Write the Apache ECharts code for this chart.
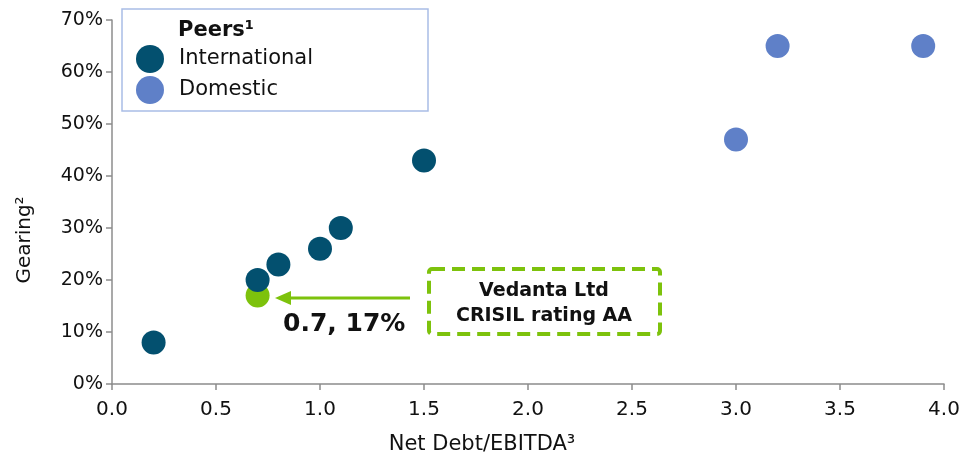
<!DOCTYPE html>
<html>
<head>
<meta charset="utf-8">
<script src="https://cdn.jsdelivr.net/npm/echarts@6/dist/echarts.min.js"></script>
<style>html,body{margin:0;padding:0;background:#fff}#c{width:964px;height:458px}</style>
</head>
<body>
<div id="c"></div>
<script>
const xTicks = [0, 0.5, 1.0, 1.5, 2.0, 2.5, 3.0, 3.5, 4.0];
const yTicks = [0, 10, 20, 30, 40, 50, 60, 70];
const internationalX = [0.2, 0.7, 0.8, 1.0, 1.1, 1.5];
const internationalY = [8, 20, 23, 26, 30, 43];
const domesticX = [3.0, 3.2, 3.9];
const domesticY = [47, 65, 65];
const vedantaX = [0.7];
const vedantaY = [17];

const FONT = 'DejaVu Sans, Verdana, sans-serif';
const cInt = '#03506f', cDom = '#5f80c8', cGreen = '#7dc20c';
const zip = (a, b) => a.map((v, i) => [v, b[i]]);

const chart = echarts.init(document.getElementById('c'));
chart.setOption({
  animation: false,
  grid: { left: 112, right: 20, top: 20, bottom: 74 },
  xAxis: {
    type: 'value', min: xTicks[0], max: xTicks[xTicks.length - 1], interval: 0.5,
    axisLine: { show: true, lineStyle: { color: '#8c8c8c', width: 1.5 } },
    axisTick: { show: true, length: 6, lineStyle: { color: '#8c8c8c', width: 1.5 } },
    splitLine: { show: false },
    axisLabel: { color: '#111', fontFamily: FONT, fontSize: 20, margin: 16, formatter: v => v.toFixed(1) }
  },
  yAxis: {
    type: 'value', min: yTicks[0], max: yTicks[yTicks.length - 1], interval: 10,
    axisLine: { show: true, lineStyle: { color: '#8c8c8c', width: 1.5 } },
    axisTick: { show: true, length: 6, lineStyle: { color: '#8c8c8c', width: 1.5 } },
    splitLine: { show: false },
    axisLabel: { color: '#111', fontFamily: FONT, fontSize: 19, margin: 9, formatter: '{value}%' }
  },
  legend: {
    orient: 'vertical', left: 131, top: 40, itemWidth: 28, itemHeight: 28, itemGap: 3,
    icon: 'circle', data: ['International', 'Domestic'],
    textStyle: { fontFamily: FONT, fontSize: 21, color: '#111', padding: [4, 0, 0, 10] }
  },
  series: [
    { name: 'International', type: 'scatter', symbolSize: 24, itemStyle: { color: cInt, opacity: 1 }, data: zip(internationalX, internationalY), z: 3 },
    { name: 'Domestic', type: 'scatter', symbolSize: 24, itemStyle: { color: cDom, opacity: 1 }, data: zip(domesticX, domesticY), z: 3 },
    { name: 'Vedanta', type: 'scatter', symbolSize: 24, itemStyle: { color: cGreen, opacity: 1 }, data: zip(vedantaX, vedantaY), z: 2 }
  ],
  graphic: [
    { type: 'rect', shape: { x: 122, y: 9, width: 306, height: 102 }, style: { fill: 'none', stroke: '#a9bde6', lineWidth: 1.5 }, z: 1 },
    { type: 'text', left: 178, top: 20, style: { text: 'Peers¹', font: 'bold 21px ' + FONT, fill: '#111' } },
    { type: 'line', shape: { x1: 410, y1: 298, x2: 284, y2: 298 }, style: { stroke: cGreen, lineWidth: 3 } },
    { type: 'polygon', shape: { points: [[275, 298], [291, 291], [291, 305]] }, style: { fill: cGreen } },
    { type: 'rect', shape: { x: 429, y: 269, width: 231, height: 65, r: 3 }, style: { fill: 'none', stroke: cGreen, lineWidth: 4, lineDash: [13, 7] } },
    { type: 'text', x: 544, y: 291, style: { text: 'Vedanta Ltd', font: 'bold 19px ' + FONT, fill: '#111', textAlign: 'center', textVerticalAlign: 'middle' } },
    { type: 'text', x: 544, y: 316, style: { text: 'CRISIL rating AA', font: 'bold 19px ' + FONT, fill: '#111', textAlign: 'center', textVerticalAlign: 'middle' } },
    { type: 'text', x: 283, y: 324, style: { text: '0.7, 17%', font: 'bold 25px ' + FONT, fill: '#111', textAlign: 'left', textVerticalAlign: 'middle' } },
    { type: 'text', x: 482, y: 445, style: { text: 'Net Debt/EBITDA³', font: '21px ' + FONT, fill: '#111', textAlign: 'center', textVerticalAlign: 'middle' } },
    { type: 'text', x: 25, y: 240, rotation: Math.PI / 2, style: { text: 'Gearing²', font: '20px ' + FONT, fill: '#111', textAlign: 'center', textVerticalAlign: 'middle' } }
  ]
});
</script>
</body>
</html>
